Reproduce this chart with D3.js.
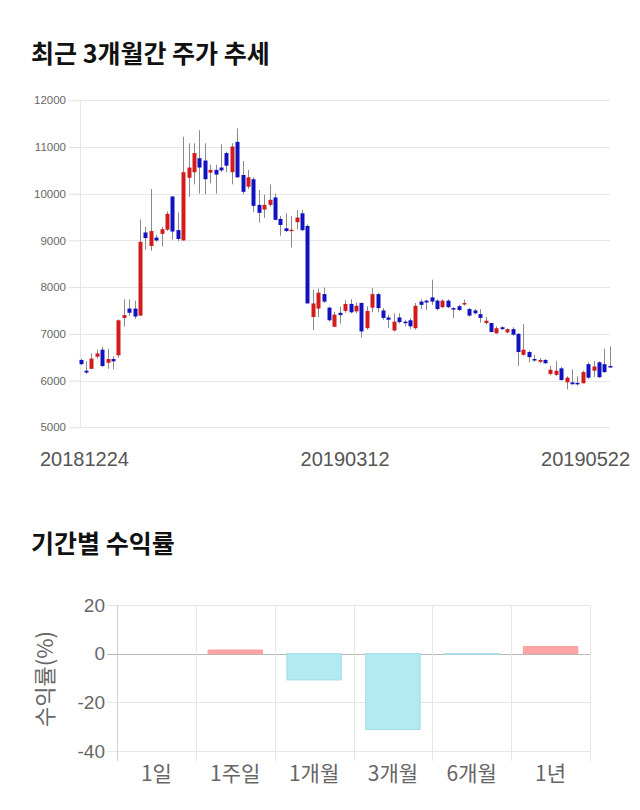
<!DOCTYPE html>
<html><head><meta charset="utf-8">
<script src="https://cdn.jsdelivr.net/npm/d3@7"></script>
<style>
body{margin:0;background:#fff;}
svg{display:block;font-family:"Liberation Sans",Arial,sans-serif;}
</style></head>
<body><svg id="c" width="640" height="810"></svg>
<script>
// ---- Candlestick data (trading days 2018-12-24 .. 2019-05-22) ----
const dateLabels = ["20181224", "20190312", "20190522"];
const dateLabelIdx = [0, 49, 98];
const open  = [6440,6210,6250,6510,6660,6380,6460,6540,7340,7540,7540,7390,9170,8880,9060,9140,9230,9940,9220,9000,
10340,10460,10760,10710,10450,10510,10560,10870,10460,11110,10400,10150,10310,9760,9660,9760,9920,9460,9260,9210,
9390,9580,9310,7360,7540,7850,7560,7150,7450,7490,7640,7480,7660,7120,7560,7850,7500,7350,7070,7350,
7260,7290,7120,7690,7710,7780,7710,7570,7710,7550,7590,7630,7530,7500,7420,7230,7230,7010,7140,7030,
7100,7000,6550,6610,6460,6400,6440,6140,6120,6260,5960,5960,5950,5940,6350,6210,6390,6350,6310];
const high  = [6470,6410,6580,6660,6720,6680,6520,7310,7740,7740,7710,9450,9290,10100,9120,9290,9620,9950,9600,11220,
11080,11080,11360,11080,10620,10620,11060,10900,11080,11400,10700,10510,10350,10080,9980,10200,10000,9520,9580,9520,
9650,9650,9340,7940,7970,7990,7580,7470,7580,7720,7740,7670,7670,7590,7980,7870,7550,7410,7440,7440,
7300,7340,7660,7740,7730,8160,7740,7740,7740,7570,7620,7730,7550,7530,7530,7360,7240,7160,7160,7120,
7140,7010,7210,6640,6550,6480,6460,6310,6420,6290,6090,6240,6090,6210,6390,6420,6410,6680,6730];
const low   = [6330,6140,6240,6470,6290,6250,6240,6490,7150,7380,7320,7380,8800,8780,8970,8870,9200,9020,8980,8990,
9930,10200,10000,9990,10220,10000,10460,10460,10200,10350,9990,10100,9610,9380,9480,9720,9437,9100,9180,8850,
9240,9200,7650,7080,7360,7660,7260,7150,7220,7450,7440,7440,6920,7090,7460,7460,7300,7120,7050,7220,
7160,7100,7090,7530,7510,7620,7500,7550,7550,7340,7490,7600,7370,7410,7240,7200,7030,7000,7080,7010,
6960,6310,6530,6390,6400,6370,6360,6120,6100,6000,5810,5910,5890,5940,6030,6070,6060,6160,6280];
const close = [6350,6170,6470,6580,6310,6460,6410,7290,7400,7450,7370,8970,9050,9200,9000,9240,9570,9190,9030,10460,
10560,10870,10560,10310,10510,10410,10500,10600,11010,10350,10040,10350,9740,9590,9760,9870,9440,9330,9200,9230,
9490,9220,7650,7650,7880,7690,7290,7410,7400,7640,7460,7600,7050,7490,7850,7550,7340,7300,7260,7250,
7230,7160,7600,7620,7670,7690,7530,7710,7570,7540,7510,7660,7390,7440,7340,7280,7040,7120,7100,7100,
6980,6610,6660,6500,6430,6440,6370,6230,6210,6010,6060,5920,5930,6180,6060,6300,6070,6180,6300];
const priceTicks = [5000,6000,7000,8000,9000,10000,11000,12000];

// ---- Period returns ----
const periods = ["1일","1주일","1개월","3개월","6개월","1년"];
const returns = [0, 1.5, -10.8, -31.2, -0.3, 2.9];
const returnTicks = [20, 0, -20, -40];

const svg = d3.select("#c");
const KR = "'Noto Sans CJK KR','Noto Sans',sans-serif";

// ===== Title 1 =====
svg.append("text").attr("x",31).attr("y",63)
  .style("font-family",KR)
  .style("font-size","25px").style("font-weight","bold").attr("fill","#111")
  .text("최근 3개월간 주가 추세");

// ===== Candlestick chart =====
const x = d3.scaleLinear().domain([0, open.length-1]).range([80.5, 609.7]);
const y = d3.scaleLinear().domain([5000, 12000]).range([427.2, 100.3]);
const g = svg.append("g");

// grid
g.selectAll(".hg").data(priceTicks).join("line")
  .attr("x1",80).attr("x2",610)
  .attr("y1",d=>Math.round(y(d))+0.5).attr("y2",d=>Math.round(y(d))+0.5)
  .attr("stroke","#e6e6e6").attr("stroke-width",1);
g.append("line").attr("x1",80.5).attr("x2",80.5).attr("y1",y(12000)).attr("y2",y(5000))
  .attr("stroke","#e6e6e6");
// y axis ticks + labels
const yAxis = d3.axisLeft(y).tickValues(priceTicks).tickSize(11).tickPadding(3).tickFormat(d3.format("d"));
const ya = g.append("g").attr("transform","translate(80,0)").call(yAxis);
ya.select(".domain").remove();
ya.selectAll(".tick line").attr("stroke","#e0e0e0");
ya.selectAll(".tick text").attr("fill","#666").style("font-size","11.5px")
  .style("font-family","'Liberation Sans',Arial,sans-serif");

// candles
const idx = d3.range(open.length);
g.selectAll(".wick").data(idx).join("line")
  .attr("x1",i=>Math.round(x(i))+0.5).attr("x2",i=>Math.round(x(i))+0.5)
  .attr("y1",i=>y(high[i])).attr("y2",i=>y(low[i]))
  .attr("stroke","#8a8a8a").attr("stroke-width",1);
g.selectAll(".body").data(idx).join("rect")
  .attr("x",i=>Math.round(x(i))-1.5).attr("width",4)
  .attr("y",i=>y(Math.max(open[i],close[i])))
  .attr("height",i=>Math.max(1.5, Math.abs(y(open[i])-y(close[i]))))
  .attr("fill",i=>close[i]>=open[i] ? "#d21c1c" : "#1212c0");

// date labels
const dl = g.selectAll(".dl").data(dateLabelIdx).join("text")
  .attr("y",466).attr("fill","#555")
  .style("font-size","20px").style("font-family","'Liberation Sans',Arial,sans-serif")
  .text((d,i)=>dateLabels[i]);
dl.each(function(d){
  const w = this.getComputedTextLength();
  let cx = x(d);
  cx = Math.max(40 + w/2, Math.min(630 - w/2, cx));
  d3.select(this).attr("x", cx).attr("text-anchor","middle");
});

// ===== Title 2 =====
svg.append("text").attr("x",31).attr("y",553)
  .style("font-family",KR)
  .style("font-size","25px").style("font-weight","bold").attr("fill","#111")
  .text("기간별 수익률");

// ===== Returns bar chart =====
const xb = d3.scaleBand().domain(periods).range([117, 590]);
const yb = d3.scaleLinear().domain([-40, 20]).range([751, 605]);
const gb = svg.append("g");

gb.selectAll(".bh").data(returnTicks).join("line")
  .attr("x1",107).attr("x2",590)
  .attr("y1",d=>Math.round(yb(d))+0.5).attr("y2",d=>Math.round(yb(d))+0.5)
  .attr("stroke",d=>d===0 ? "#b8b8b8" : "#e6e6e6");
const vx = periods.map(p=>xb(p)).concat([590]);
gb.selectAll(".bv").data(vx).join("line")
  .attr("x1",d=>Math.round(d)+0.5).attr("x2",d=>Math.round(d)+0.5)
  .attr("y1",605).attr("y2",761)
  .attr("stroke",(d,i)=>i===0 ? "#d0d0d0" : "#e6e6e6");

gb.selectAll(".bl").data(returnTicks).join("text")
  .attr("x",105).attr("y",d=>yb(d)).attr("dy","0.35em").attr("text-anchor","end")
  .attr("fill","#666").style("font-size","19px")
  .style("font-family","'Liberation Sans',Arial,sans-serif")
  .text(d=>d);

const bw = xb.bandwidth()*0.69;
gb.selectAll(".bar").data(periods).join("rect")
  .attr("x",p=>xb(p)+(xb.bandwidth()-bw)/2).attr("width",bw)
  .attr("y",(p,i)=>yb(Math.max(0,returns[i])))
  .attr("height",(p,i)=>Math.abs(yb(returns[i])-yb(0)))
  .attr("fill",(p,i)=>returns[i]>=0 ? "#ffa4a4" : "#b2eaf2")
  .attr("stroke",(p,i)=>returns[i]>=0 ? "#ff9c9c" : "#a4dbe4")
  .attr("stroke-width",1)
  .style("display",(p,i)=>returns[i]===0 ? "none" : null);

gb.selectAll(".cl").data(periods).join("text")
  .attr("x",p=>xb(p)+xb.bandwidth()/2).attr("y",781).attr("text-anchor","middle")
  .attr("fill","#666").style("font-size","21px")
  .style("font-family",KR)
  .text(p=>p);

gb.append("text").attr("transform","translate(53,679) rotate(-90)")
  .attr("text-anchor","middle").attr("fill","#666").style("font-size","22px")
  .style("font-family",KR)
  .text("수익률(%)");
</script>
</body></html>
